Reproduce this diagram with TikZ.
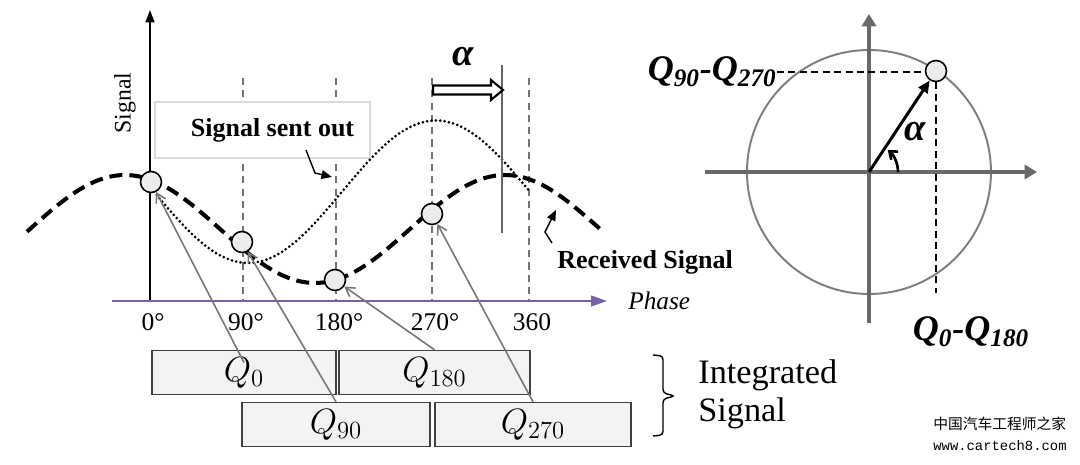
\RequirePackage{fix-cm}
\documentclass[tikz,border=0pt]{standalone}
\usepackage{fontspec}
\setmainfont{Liberation Serif}
\newfontfamily\cjkfont{Noto Sans CJK SC}
\newfontfamily\urlfont{Liberation Mono}
\usepackage{tikz}
\usetikzlibrary{arrows.meta, positioning, calc}
\usepackage{xcolor}
\definecolor{phasePurple}{RGB}{118,96,166}
\definecolor{ringGray}{RGB}{125,125,125}
\definecolor{axisGray}{RGB}{105,105,105}
\definecolor{arrowGray}{RGB}{118,118,118}
\definecolor{boxGray}{RGB}{243,243,243}
\definecolor{dotGray}{RGB}{236,236,236}
\definecolor{frameGray}{RGB}{218,218,218}

\begin{document}
\begin{tikzpicture}[
  x=0.02cm, y=-0.02cm,
  sample/.style={
    circle, draw=black, fill=dotGray, line width=0.9pt,
    minimum size=0.42cm, inner sep=0pt
  },
  qbox/.style={
    rectangle, draw=black!75, fill=boxGray, line width=0.8pt,
    minimum width=#1, minimum height=0.88cm, inner sep=0pt,
    font=\fontsize{20}{24}\selectfont
  },
  sentbox/.style={
    rectangle, draw=frameGray, fill=white, line width=0.6pt,
    minimum width=4.3cm, minimum height=1.12cm, inner sep=0pt,
    font=\fontsize{14.8}{17}\selectfont\bfseries
  },
  tick/.style={anchor=north, inner sep=0pt, font=\fontsize{14.5}{16}\selectfont},
  lbl/.style={inner sep=0pt, font=\fontsize{14.8}{17}\selectfont\bfseries},
  qlbl/.style={inner sep=0pt, font=\fontsize{20.5}{24}\selectfont\bfseries\itshape},
  grid/.style={black!55, line width=0.6pt, dash pattern=on 4pt off 3pt},
  ptr/.style={-{Straight Barb[length=5pt,width=6pt]}, line width=0.9pt, arrowGray},
  hook/.style={-{Triangle[length=6pt,width=5pt]}, line width=0.8pt},
  axis/.style={-{Triangle[length=7pt,width=8pt]}, line width=2.3pt, axisGray},
  guide/.style={line width=1.1pt, dash pattern=on 4pt off 2.5pt}
]
  \useasboundingbox (0,0) rectangle (1080,465);

  % Axes of the time plot
  \coordinate (sigB) at (150,301);
  \coordinate (sigT) at (150,10);
  \coordinate (phL) at (112,301);
  \coordinate (phR) at (607,301);

  \foreach \x in {243, 336, 432, 529}
    \draw[grid] (\x,78) -- (\x,301);

  \draw[line width=1pt, -{Triangle[length=7pt,width=5pt]}] (sigB) -- (sigT);
  \draw[line width=1.2pt, phasePurple, -{Triangle[length=9pt,width=6pt]}]
    (phL) -- (phR);

  \node[rotate=90, font=\fontsize{13.5}{15}\selectfont] (sig) at (125,103) {Signal};
  \node[right=0.42cm of phR, inner sep=0pt,
    font=\fontsize{14.4}{16}\selectfont\itshape] (phase) {Phase};

  \foreach \x/\t in {150/0°, 243/90°, 336/180°, 432/270°, 529/360}
    \node[tick] (t\x) at (\x+3,313) {\t};

  \node[sentbox] (sent) at (262.5,130) {\hspace{0.4cm}Signal sent out};

  % Signals
  \draw[line width=1.7pt, line cap=round, dash pattern=on 0pt off 2.5pt]
    plot[domain=151:530, samples=120]
    (\x, {191.75-71.25*cos((\x-436)/376*360)});
  \draw[line width=2.3pt, dash pattern=on 7.4pt off 4pt]
    plot[domain=27:601, samples=120]
    (\x, {229-54*cos((\x-505)/380*360)});

  % Phase shift
  \draw[line width=1.1pt, black!60] (502,65) -- (502,233);
  \draw[line width=1.2pt, fill=white]
    (433,85.5) -- (491,85.5) -- (491,80) -- (503,90)
    -- (491,100) -- (491,94.5) -- (433,94.5) -- cycle;
  \node[font=\fontsize{22}{24}\selectfont\bfseries\itshape] (shift) at (463,57) {α};

  \foreach \n/\x/\y in {r0/151/182, r90/242/242, r180/335/280, r270/432/214}
    \node[sample] (\n) at (\x,\y) {};

  \coordinate (sentTail) at (306,150);
  \draw[hook] (sentTail) -- (315,173) -- (332,177);
  \coordinate (recvTail) at (552,243);
  \draw[hook] (recvTail) -- (545,232) -- (556,210);
  \node[lbl, anchor=west] (recv) at (557,262) {Received Signal};

  % Integration windows
  \foreach \n/\x/\y/\w/\t in {q0/244/372.5/3.68cm/0, q180/434.5/372.5/3.82cm/180,
      q90/336/424.5/3.76cm/90, q270/533/424.5/3.92cm/270}
    \node[qbox=\w] (\n) at (\x,\y) {$Q_{\t}$};

  \draw[ptr] ([yshift=0.2cm]q0.center) -- (r0);
  \foreach \a/\b in {q90/r90, q180/r180, q270/r270}
    \draw[ptr] (\a.north) -- (\b);

  \draw[line width=0.8pt, rounded corners=2pt]
    (653,355) -- (663,356) -- (663,393) -- (675,396)
    -- (663,399) -- (663,435) -- (653,436);
  \node[anchor=west, inner sep=0pt, align=left,
    font=\fontsize{19.5}{21.6}\selectfont] (integ) at (698,394)
    {Integrated\\Signal};

  % Phasor diagram
  \coordinate (org) at (869,172);
  \coordinate (xL) at (705,172);
  \coordinate (xR) at (1037,172);
  \coordinate (yB) at (869,323);
  \coordinate (yT) at (869,14);
  \draw[ringGray, line width=1.1pt] (org) circle[radius=2.44cm];
  \draw[axis] (xL) -- (xR);
  \draw[axis] (yB) -- (yT);

  \node[sample] (pt) at (936,71) {};
  \draw[line width=1.7pt, -{Triangle[length=7pt,width=6pt]}] (org) -- (pt);
  \draw[line width=1.5pt, -{Straight Barb[length=4pt,width=6pt]}]
    ([xshift=0.58cm]org) arc[start angle=0, end angle=50, radius=0.58cm];
  \node[font=\fontsize{22}{24}\selectfont\bfseries\itshape] (ang) at (915,132) {α};

  % Labels
  \node[qlbl, anchor=east] (qy) at (777,72)
    {Q\textsubscript{90}-Q\textsubscript{270}};
  \node[qlbl] (qx) at (971,332)
    {Q\textsubscript{0}-Q\textsubscript{180}};
  \draw[guide] (qy.east) -- (qy.east -| pt.west);
  \draw[guide] (pt.south) -- (pt.south |- 0,293);

  \node[anchor=west, inner sep=0pt, font=\cjkfont\fontsize{8.4}{10}\selectfont]
    (wmcn) at (933,424) {中国汽车工程师之家};
  \node[anchor=west, inner sep=0pt, font=\urlfont\fontsize{7.9}{10}\selectfont]
    (wmurl) at (933,446) {www.cartech8.com};
\end{tikzpicture}
\end{document}
